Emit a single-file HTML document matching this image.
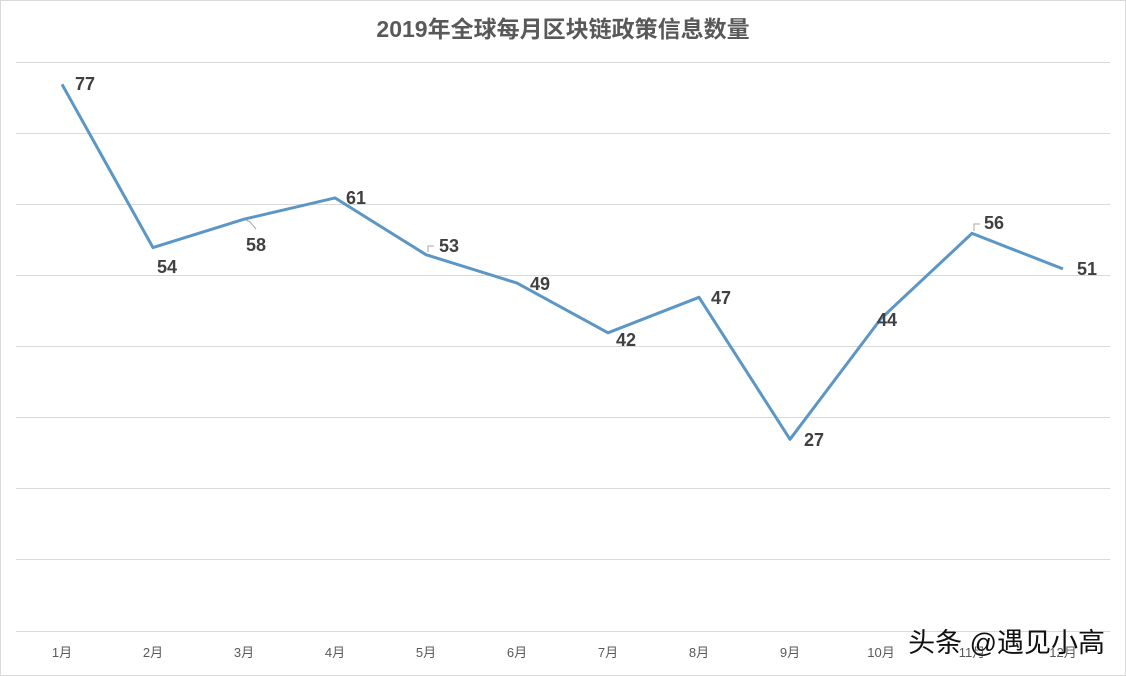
<!DOCTYPE html>
<html><head><meta charset="utf-8"><style>
html,body{margin:0;padding:0;background:#fff;}
svg{display:block;}
</style></head><body>
<svg width="1126" height="676" viewBox="0 0 1126 676" xmlns="http://www.w3.org/2000/svg" font-family="'Liberation Sans','Noto Sans CJK SC',sans-serif">
<rect x="0.5" y="0.5" width="1125" height="675" fill="#fff" stroke="#d9d9d9"/>
<text x="563" y="37" text-anchor="middle" font-size="23" font-weight="bold" fill="#595959">2019年全球每月区块链政策信息数量</text>
<g stroke="#d9d9d9" stroke-width="1">
<line x1="16" y1="62.5" x2="1110" y2="62.5"/>
<line x1="16" y1="133.5" x2="1110" y2="133.5"/>
<line x1="16" y1="204.5" x2="1110" y2="204.5"/>
<line x1="16" y1="275.5" x2="1110" y2="275.5"/>
<line x1="16" y1="346.5" x2="1110" y2="346.5"/>
<line x1="16" y1="417.5" x2="1110" y2="417.5"/>
<line x1="16" y1="488.5" x2="1110" y2="488.5"/>
<line x1="16" y1="559.5" x2="1110" y2="559.5"/>
<line x1="16" y1="631.5" x2="1110" y2="631.5"/>
</g>
<polyline fill="none" stroke="#5b96c5" stroke-width="3" stroke-linejoin="round" points="62,84.3 153,247.6 244,219.2 335,197.9 426,254.7 517,283.1 608,332.8 699,297.3 790,439.3 881,318.6 972,233.4 1063,268.9"/>
<g stroke="#a6a6a6" stroke-width="1" fill="none">
<polyline points="256,229 250,222 246,220"/>
<polyline points="428,252 428,246 434,246"/>
<polyline points="974,231 974,224 980,224"/>
</g>
<g font-size="18" font-weight="bold" fill="#404040">
<text x="75" y="90">77</text>
<text x="157" y="273">54</text>
<text x="246" y="251">58</text>
<text x="346" y="204">61</text>
<text x="439" y="252">53</text>
<text x="530" y="290">49</text>
<text x="616" y="346">42</text>
<text x="711" y="304">47</text>
<text x="804" y="446">27</text>
<text x="877" y="326">44</text>
<text x="984" y="229">56</text>
<text x="1077" y="275">51</text>
</g>
<g font-size="13" fill="#595959" text-anchor="middle">
<text x="62" y="657">1月</text>
<text x="153" y="657">2月</text>
<text x="244" y="657">3月</text>
<text x="335" y="657">4月</text>
<text x="426" y="657">5月</text>
<text x="517" y="657">6月</text>
<text x="608" y="657">7月</text>
<text x="699" y="657">8月</text>
<text x="790" y="657">9月</text>
<text x="881" y="657">10月</text>
<text x="972" y="657">11月</text>
<text x="1063" y="657">12月</text>
</g>
<text x="1105" y="652" text-anchor="end" font-size="27" fill="#111" stroke="#fff" stroke-width="0.6" paint-order="stroke">头条 @遇见小高</text>
</svg>
</body></html>
